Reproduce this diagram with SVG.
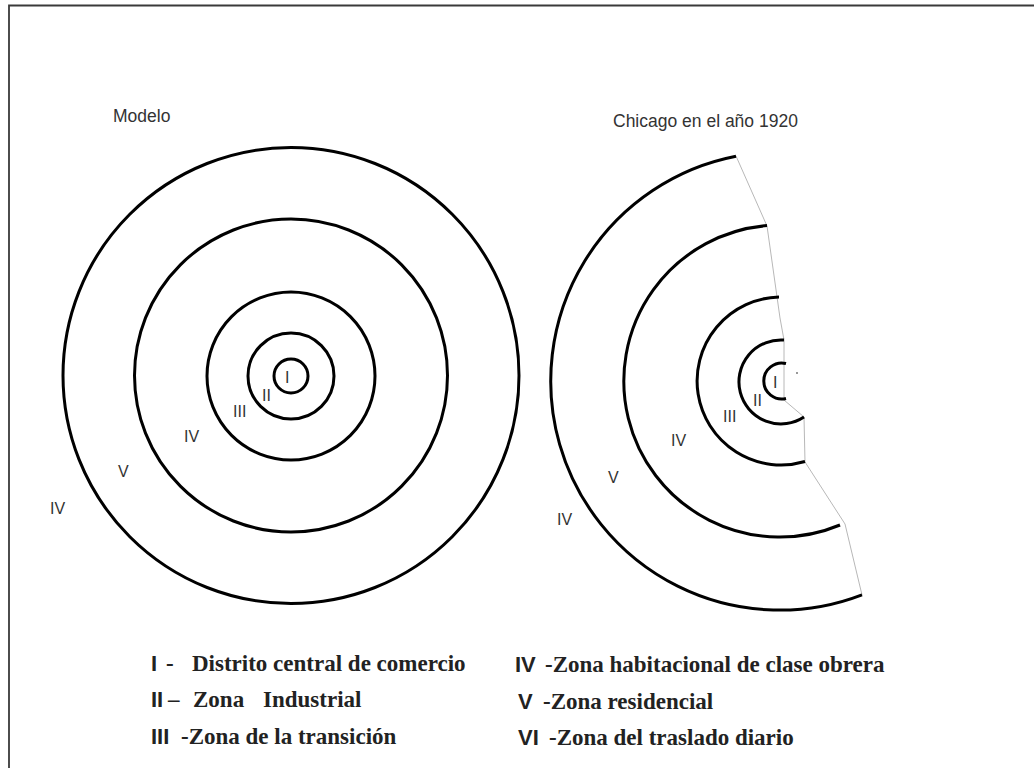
<svg xmlns="http://www.w3.org/2000/svg" width="1034" height="768" viewBox="0 0 1034 768">
<style>
.ring{fill:none;stroke:#000;stroke-width:3}
.bound{fill:none;stroke:#b8b8b8;stroke-width:1}
.lbl{font-family:"Liberation Sans",Arial,sans-serif;font-size:16px;fill:#333}
.title{font-family:"Liberation Sans",Arial,sans-serif;font-size:17.5px;fill:#333}
.num{font-family:"Liberation Sans",Arial,sans-serif;font-weight:bold;font-size:22px;fill:#222}
.leg{font-family:"Liberation Serif","Times New Roman",serif;font-weight:bold;font-size:23px;fill:#222}
</style>
<rect x="0" y="0" width="1034" height="768" fill="#fff"/>
<g id="frame">
<path d="M9,768 L9,5.5 L1034,5.5" fill="none" stroke="#3a3a3a" stroke-width="1.8"/>
</g>
<g id="modelo">
<text class="title" x="113" y="122">Modelo</text>
<circle class="ring" cx="291" cy="376" r="17"/>
<circle class="ring" cx="291" cy="376" r="43"/>
<circle class="ring" cx="291" cy="376" r="84"/>
<circle class="ring" cx="291" cy="375.5" r="156.5"/>
<circle class="ring" cx="291" cy="375.5" r="228"/>
<text class="lbl" x="285" y="383">I</text>
<text class="lbl" x="262" y="401">II</text>
<text class="lbl" x="233" y="417">III</text>
<text class="lbl" x="184" y="442">IV</text>
<text class="lbl" x="118" y="477">V</text>
<text class="lbl" x="50" y="514">IV</text>
</g>
<g id="chicago">
<text class="title" x="613" y="127">Chicago en el año 1920</text>
<polyline class="bound" points="736,156 767,226 780,318 784,340 784,400 804,417 805,462 845,524 862,595"/>
<path class="ring" d="M786,363.5 A18,18 0 1 0 786,398.5"/>
<path class="ring" d="M784,340 A42,42 0 1 0 804,417"/>
<path class="ring" d="M779,297 A84,84 0 1 0 805,461.5"/>
<path class="ring" d="M767,225.6 A156,156 0 1 0 840,525"/>
<path class="ring" d="M736,156.3 A229,229 0 1 0 862,594.8"/>
<circle cx="797" cy="373" r="1" fill="#777"/>
<text class="lbl" x="773" y="388">I</text>
<text class="lbl" x="753" y="406">II</text>
<text class="lbl" x="723" y="422">III</text>
<text class="lbl" x="671" y="446">IV</text>
<text class="lbl" x="608" y="483">V</text>
<text class="lbl" x="557" y="525">IV</text>
</g>
<g id="legend-left">
<text class="num" x="151" y="671">I</text>
<text class="leg" x="166" y="671">-</text>
<text class="leg" x="192" y="671">Distrito central de comercio</text>
<text class="num" x="151" y="707">II</text>
<text class="leg" x="168" y="707">–</text>
<text class="leg" x="193" y="707">Zona</text>
<text class="leg" x="263" y="707">Industrial</text>
<text class="num" x="151" y="744">III</text>
<text class="leg" x="181" y="744">-Zona de la transición</text>
</g>
<g id="legend-right">
<text class="num" x="515" y="672">IV</text>
<text class="leg" x="545" y="672">-Zona habitacional de clase obrera</text>
<text class="num" x="518" y="709">V</text>
<text class="leg" x="543" y="709">-Zona residencial</text>
<text class="num" x="518" y="745">VI</text>
<text class="leg" x="549" y="745">-Zona del traslado diario</text>
</g>
</svg>
